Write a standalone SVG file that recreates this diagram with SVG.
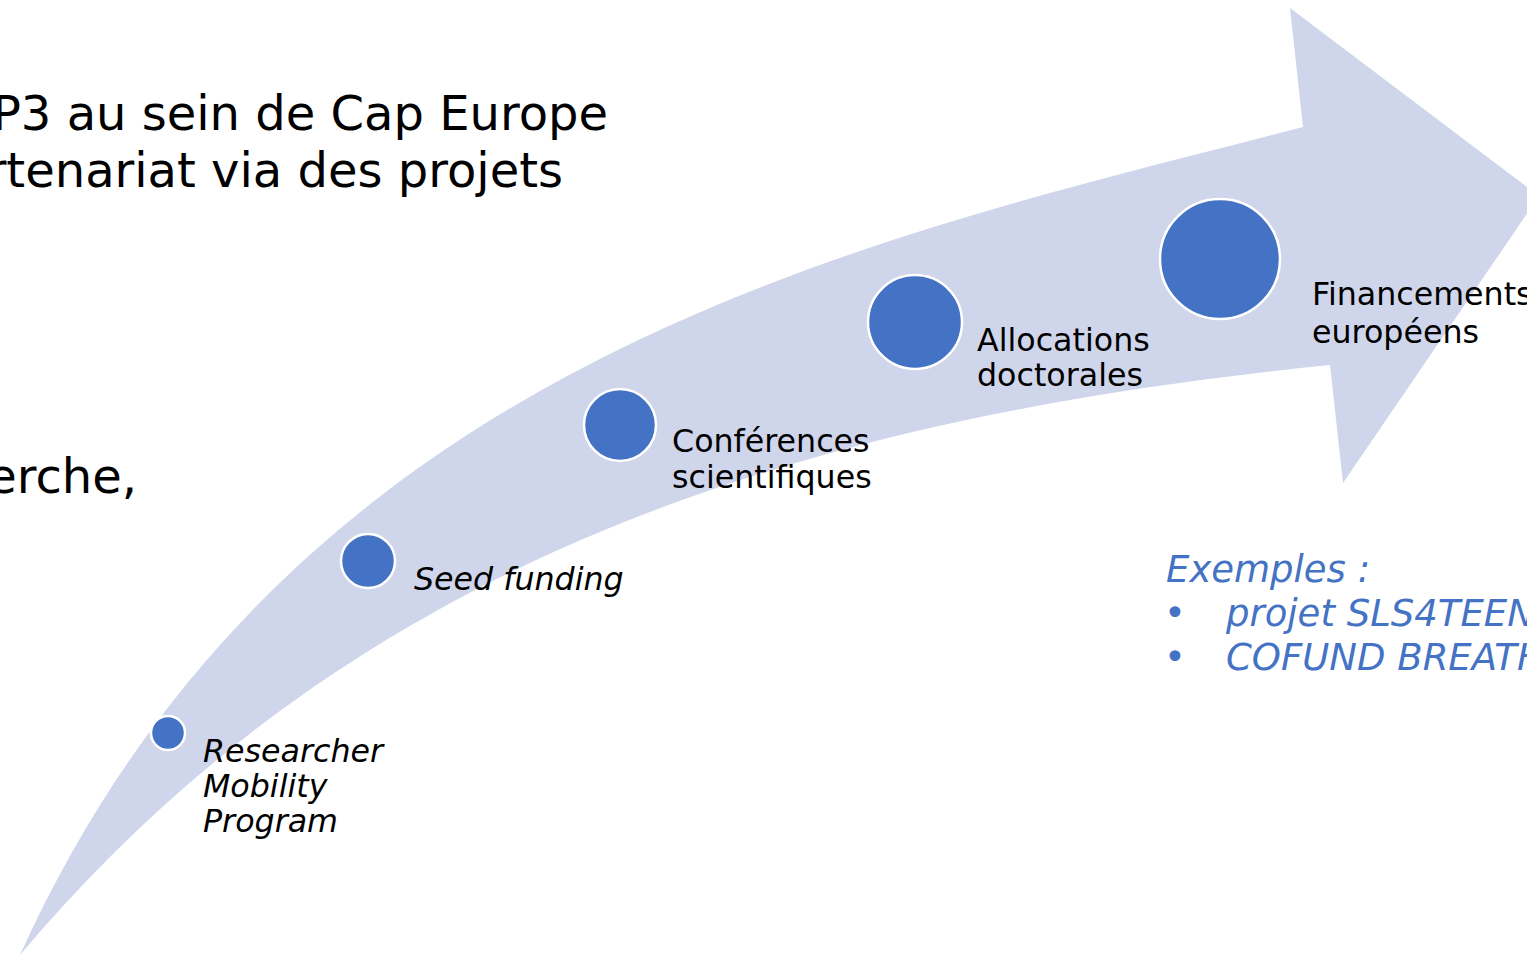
<svg xmlns="http://www.w3.org/2000/svg" width="1527" height="955" viewBox="0 0 1527 955">
<style>
.t{font-family:"DejaVu Sans","Liberation Sans",sans-serif;fill:#000}
.big{font-size:48px}
.lbl{font-size:31.7px}
.it{font-style:italic}
.ex{font-family:"DejaVu Sans","Liberation Sans",sans-serif;font-size:37px;fill:#4472C4}
.dot{fill:#4472C4;stroke:#fff;stroke-width:2.5}
</style>
<rect width="1527" height="955" fill="#fff"/>
<g id="arrow">
<path d="M20,955 C291,356 868.5,240 1303,127 L1290,8 L1539,196 L1343,483 L1330,365 C797.4,418.3 352.5,560 20,955 Z" fill="#CFD5EA"/>
</g>
<g id="left-text">
<text class="t big" x="608" y="130" text-anchor="end">P3 au sein de Cap Europe</text>
<text class="t big" x="563" y="187" text-anchor="end">rtenariat via des projets</text>
<text class="t big" x="137" y="493" text-anchor="end">erche,</text>
</g>
<g id="node-researcher">
<circle class="dot" cx="168" cy="733" r="17"/>
<text class="t lbl it" x="203" y="762">Researcher</text>
<text class="t lbl it" x="203" y="797">Mobility</text>
<text class="t lbl it" x="203" y="832">Program</text>
</g>
<g id="node-seed">
<circle class="dot" cx="368" cy="561" r="27"/>
<text class="t lbl it" x="414" y="590">Seed funding</text>
</g>
<g id="node-conf">
<circle class="dot" cx="620" cy="425" r="36"/>
<text class="t lbl" x="672" y="452">Conférences</text>
<text class="t lbl" x="672" y="488">scientifiques</text>
</g>
<g id="node-alloc">
<circle class="dot" cx="915" cy="322" r="47"/>
<text class="t lbl" x="977" y="351">Allocations</text>
<text class="t lbl" x="977" y="386">doctorales</text>
</g>
<g id="node-fin">
<circle class="dot" cx="1220" cy="259" r="60"/>
<text class="t lbl" x="1312" y="305">Financements</text>
<text class="t lbl" x="1312" y="343">européens</text>
</g>
<g id="examples">
<text class="ex it" x="1166" y="582">Exemples :</text>
<text class="ex" x="1164" y="626">•</text>
<text class="ex it" x="1226" y="626">projet SLS4TEEN</text>
<text class="ex" x="1164" y="670">•</text>
<text class="ex it" x="1226" y="670">COFUND BREATHE</text>
</g>
</svg>
